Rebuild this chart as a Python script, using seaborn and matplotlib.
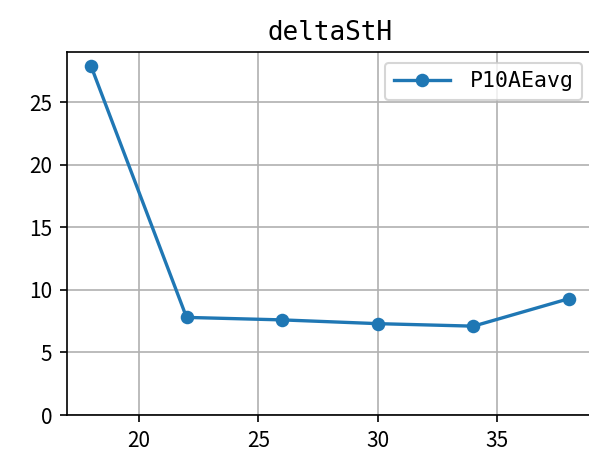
import matplotlib
matplotlib.use('Agg')
import matplotlib.pyplot as plt
import seaborn as sns
import pandas as pd

plt.rcParams['font.family'] = ['Noto Sans CJK SC', 'DejaVu Sans']
plt.rcParams['axes.unicode_minus'] = False

# data
x_vals = [18, 22, 26, 30, 34, 38]
p10ae_avg = [27.9, 7.8, 7.6, 7.3, 7.1, 9.3]
series_name = 'P10AEavg'
title = 'deltaStH'

df = pd.DataFrame({'x': x_vals, 'y': p10ae_avg})

fig = plt.figure(figsize=(589 / 150, 468 / 150), dpi=150)
ax = fig.add_axes([0.1138, 0.1132, 0.8930, 0.7756])

sns.lineplot(data=df, x='x', y='y', marker='o', markersize=6.5,
             markeredgewidth=0, color='#1f77b4', linewidth=1.6,
             label=series_name, ax=ax)

ax.set_xlim(17, 39)
ax.set_ylim(0, 29.0)
ax.set_xticks([20, 25, 30, 35])
ax.set_yticks([0, 5, 10, 15, 20, 25])
ax.grid(True, color='#b0b0b0', linewidth=0.8)
ax.set_xlabel('')
ax.set_ylabel('')
ax.tick_params(labelsize=10)
# the original used a wide half-width font for the title and legend
ax.set_title(title, fontsize=12.5, family=['DejaVu Sans Mono'])
ax.legend(loc='upper right', prop={'family': 'DejaVu Sans Mono', 'size': 10.3},
          handlelength=2.65, handletextpad=0.9)

fig.savefig('out.png', dpi=150)
